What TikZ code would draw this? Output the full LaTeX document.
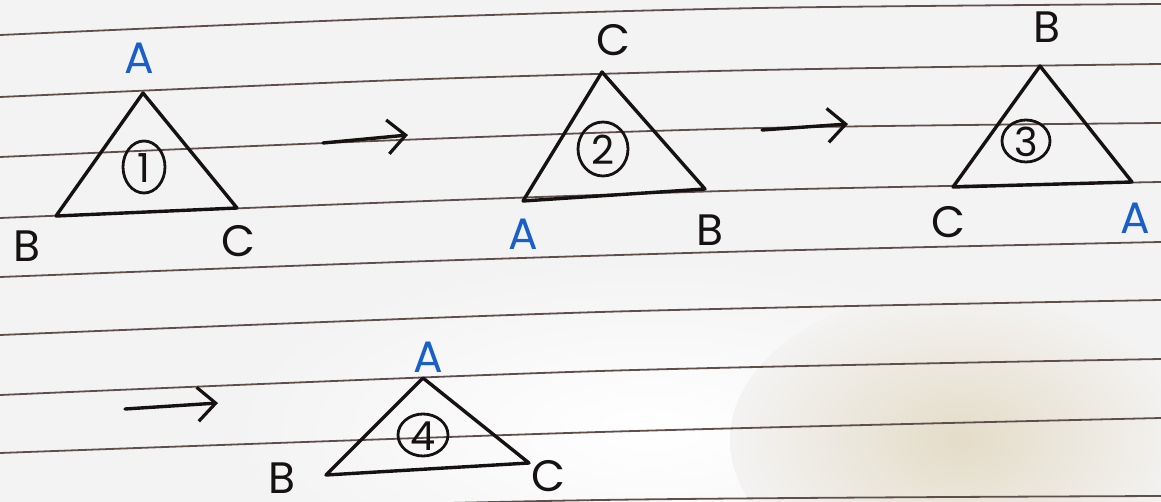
\documentclass[tikz,border=0pt]{standalone}
\usepackage{fontspec}
\setmainfont{Poppins}
\usetikzlibrary{arrows.meta}
\definecolor{paper}{RGB}{244,243,243}
\definecolor{shadow}{RGB}{228,220,200}
\definecolor{rule}{RGB}{95,78,76}
\definecolor{ink}{RGB}{22,18,18}
\definecolor{blueink}{RGB}{25,95,200}
\tikzset{
  ruled/.style={draw=rule, line width=0.9pt},
  tri/.style={draw=ink, line width=1.7pt, line join=round, line cap=round},
  lbl/.style={text=ink, inner sep=0pt, font=\fontsize{22}{22}\selectfont},
  bluelbl/.style={lbl, text=blueink},
  num/.style={text=ink, inner sep=0pt, font=\fontsize{20}{20}\selectfont},
  numring/.style={draw=ink, line width=1.4pt},
  goes/.style={draw=ink, line width=1.7pt, line cap=round,
    -{Straight Barb[length=9pt,width=17pt,line width=1.6pt]}}
}
\begin{document}
\begin{tikzpicture}[x=0.5pt,y=-0.5pt]
\useasboundingbox (0,0) rectangle (1161,502);
% paper
\fill[paper] (0,0) rectangle (1161,502);
\shade[inner color=white, outer color=paper] (650,430) ellipse [x radius=420, y radius=170];
\shade[inner color=shadow, outer color=paper] (960,440) ellipse [x radius=230, y radius=150];
% ruled lines
\draw[ruled] plot[smooth] coordinates {(0,35) (400,18) (760,8) (1161,4)};
\draw[ruled] plot[smooth] coordinates {(0,97) (400,80) (760,70) (1161,64)};
\draw[ruled] plot[smooth] coordinates {(0,157) (400,140) (760,128) (1161,123)};
\draw[ruled] plot[smooth] coordinates {(0,218) (400,202) (760,190) (1161,182)};
\draw[ruled] plot[smooth] coordinates {(0,277) (400,262) (760,251) (1161,242)};
\draw[ruled] plot[smooth] coordinates {(0,335) (600,312) (1161,300)};
\draw[ruled] plot[smooth] coordinates {(0,395) (600,371) (1161,359)};
\draw[ruled] plot[smooth] coordinates {(0,453) (600,432) (1161,418)};
\draw[ruled] plot[smooth] coordinates {(0,514) (600,500) (1161,496)};
% triangle 1
\coordinate (t1a) at (143,93);
\coordinate (t1b) at (56,216);
\coordinate (t1c) at (237,208);
\draw[tri] (t1a) -- (t1b) -- (t1c) -- cycle;
\node[bluelbl] (l1a) at (139,58) {A};
\node[lbl] (l1b) at (27,246) {B};
\node[lbl] (l1c) at (238,241) {C};
\draw[numring] (144,167) ellipse [x radius=21, y radius=26];
\node[num] (n1) at (144,168) {1};
% triangle 2
\coordinate (t2c) at (602,72);
\coordinate (t2a) at (523,201);
\coordinate (t2b) at (705,189);
\draw[tri] (t2c) -- (t2a) -- (t2b) -- cycle;
\node[lbl] (l2c) at (613,40) {C};
\node[bluelbl] (l2a) at (523,234) {A};
\node[lbl] (l2b) at (710,230) {B};
\draw[numring] (603,149) ellipse [x radius=25, y radius=27];
\node[num] (n2) at (603,150) {2};
% triangle 3
\coordinate (t3b) at (1040,66);
\coordinate (t3c) at (953,187);
\coordinate (t3a) at (1132,182);
\draw[tri] (t3b) -- (t3c) -- (t3a) -- cycle;
\node[lbl] (l3b) at (1047,27) {B};
\node[lbl] (l3c) at (948,222) {C};
\node[bluelbl] (l3a) at (1135,218) {A};
\draw[numring] (1026,141) ellipse [x radius=24, y radius=21];
\node[num] (n3) at (1026,142) {3};
% triangle 4
\coordinate (t4a) at (423,378);
\coordinate (t4b) at (326,475);
\coordinate (t4c) at (529,463);
\draw[tri] (t4a) -- (t4b) -- (t4c) -- cycle;
\node[bluelbl] (l4a) at (428,357) {A};
\node[lbl] (l4b) at (282,478) {B};
\node[lbl] (l4c) at (548,476) {C};
\draw[numring] (423,435) ellipse [x radius=25, y radius=21];
\node[num] (n4) at (423,436) {4};
% arrows
\coordinate (a1s) at (323,143);
\coordinate (a1e) at (408,135);
\coordinate (a2s) at (762,130);
\coordinate (a2e) at (848,124);
\coordinate (a3s) at (125,409);
\coordinate (a3e) at (218,403);
\draw[goes] (a1s) -- (a1e);
\draw[goes] (a2s) -- (a2e);
\draw[goes] (a3s) -- (a3e);
\end{tikzpicture}
\end{document}
